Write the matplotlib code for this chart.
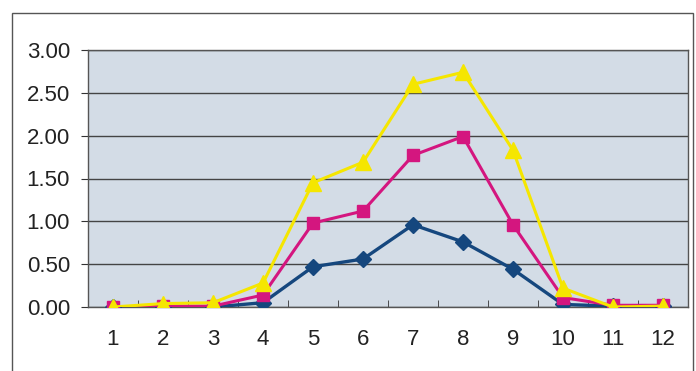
import matplotlib
matplotlib.use("Agg")
import matplotlib.pyplot as plt
from matplotlib.patches import Rectangle

plt.rcParams['font.family'] = ['Liberation Sans', 'DejaVu Sans']

months = [1, 2, 3, 4, 5, 6, 7, 8, 9, 10, 11, 12]
series_blue = [0.00, 0.00, 0.00, 0.05, 0.47, 0.56, 0.96, 0.76, 0.44, 0.03, 0.01, 0.01]
series_pink = [0.00, 0.01, 0.01, 0.14, 0.98, 1.12, 1.77, 1.99, 0.96, 0.11, 0.02, 0.02]
series_yellow = [0.00, 0.04, 0.05, 0.28, 1.45, 1.69, 2.60, 2.74, 1.83, 0.22, 0.00, 0.01]
yticks = [0.0, 0.5, 1.0, 1.5, 2.0, 2.5, 3.0]
ytick_labels = ["0.00", "0.50", "1.00", "1.50", "2.00", "2.50", "3.00"]

W, H = 696, 371
fig = plt.figure(figsize=(W / 100, H / 100), dpi=100)
fig.patch.set_facecolor('white')

# outer chart frame
fig.patches.append(Rectangle((12 / W, -0.05), (693 - 12) / W, (H - 13) / H + 0.05,
                             transform=fig.transFigure, fill=False,
                             edgecolor='#555555', linewidth=1.0))

ax = fig.add_axes([88 / W, (H - 307) / H, (688 - 88) / W, (307 - 50) / H])
ax.set_facecolor('#d3dce6')

xs = list(range(len(months)))
ax.plot(xs, series_blue, color='#15477e', marker='D', markersize=8, linewidth=2.4, zorder=3)
ax.plot(xs, series_pink, color='#d4167f', marker='s', markersize=9, linewidth=2.2, zorder=4)
ax.plot(xs, series_yellow, color='#f5e600', marker='^', markersize=11, linewidth=2.2, zorder=5)

ax.set_xlim(-0.5, len(months) - 0.5)
ax.set_ylim(0, 3.0)
ax.set_yticks(yticks)
ax.set_yticklabels(ytick_labels, fontsize=16, color='#222222')
ax.set_xticks(xs)
ax.set_xticklabels([str(m) for m in months], fontsize=16, color='#222222')
ax.set_xticks([i + 0.5 for i in xs[:-1]], minor=True)
ax.tick_params(axis='x', which='major', length=0, pad=16)
ax.tick_params(axis='x', which='minor', length=5, direction='in', color='#333333')
ax.tick_params(axis='y', length=5, direction='out', pad=8, color='#333333')
ax.yaxis.grid(True, color='#444444', linewidth=1.0)
ax.set_axisbelow(True)
for side in ['top', 'right', 'left', 'bottom']:
    ax.spines[side].set_color('#555555')
    ax.spines[side].set_linewidth(1.0)

fig.savefig('out.png', dpi=100)
